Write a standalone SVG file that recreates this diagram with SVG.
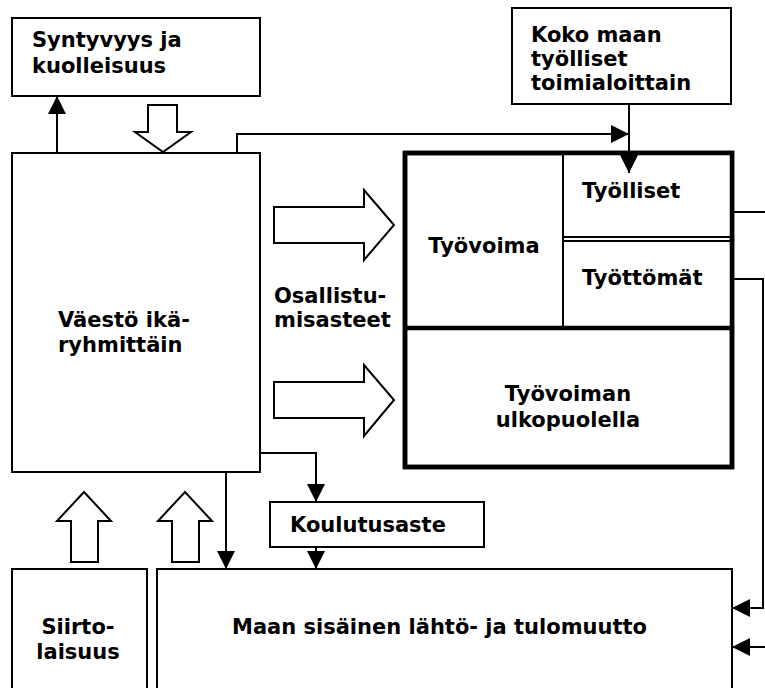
<svg xmlns="http://www.w3.org/2000/svg" width="765" height="688" viewBox="0 0 765 688">
<style>
.box{fill:#fff;stroke:#000;stroke-width:2}
.thick{fill:none;stroke:#000;stroke-width:4.5}
.ln{fill:none;stroke:#000;stroke-width:2}
.hollow{fill:#fff;stroke:#000;stroke-width:2;stroke-linejoin:miter}
text{font-family:"DejaVu Sans","Liberation Sans",sans-serif;font-weight:bold;font-size:21px;fill:#000}
.c{text-anchor:middle}
</style>
<defs>
<marker id="ah" markerUnits="userSpaceOnUse" viewBox="0 0 18 18" markerWidth="18" markerHeight="18" refX="18" refY="9" orient="auto">
<path d="M0,0 L18,9 L0,18 z" fill="#000"/>
</marker>
</defs>
<rect width="765" height="688" fill="#fff"/>
<g id="syntyvyys">
<rect class="box" x="12" y="18" width="248" height="78"/>
<text x="32" y="47">Syntyvyys ja</text>
<text x="32" y="73">kuolleisuus</text>
</g>
<g id="koko">
<rect class="box" x="512" y="8" width="219" height="96"/>
<text x="531" y="42">Koko maan</text>
<text x="531" y="66">työlliset</text>
<text x="531" y="90">toimialoittain</text>
</g>
<g id="vaesto">
<rect class="box" x="12" y="153" width="248" height="319"/>
<text x="58" y="327">Väestö ikä-</text>
<text x="58" y="352">ryhmittäin</text>
</g>
<g id="osallistumisasteet">
<text x="274" y="303">Osallistu-</text>
<text x="274" y="327">misasteet</text>
</g>
<g id="tyovoima">
<rect class="thick" x="405" y="153" width="327" height="314" fill="#fff"/>
<line class="ln" x1="563" y1="153" x2="563" y2="328"/>
<text class="c" x="484" y="253">Työvoima</text>
</g>
<g id="tyolliset">
<rect class="box" x="563" y="153" width="169" height="84"/>
<text x="582" y="198">Työlliset</text>
</g>
<g id="tyottomat">
<rect class="box" x="563" y="241" width="169" height="87"/>
<text x="582" y="285">Työttömät</text>
</g>
<g id="ulkopuolella">
<line class="thick" x1="405" y1="328" x2="732" y2="328"/>
<rect class="thick" x="405" y="153" width="327" height="314"/>
<text class="c" x="568" y="401">Työvoiman</text>
<text class="c" x="568" y="427">ulkopuolella</text>
</g>
<g id="koulutusaste">
<rect class="box" x="270" y="502" width="214" height="45"/>
<text x="290" y="532">Koulutusaste</text>
</g>
<g id="siirtolaisuus">
<rect class="box" x="12" y="569" width="135" height="140"/>
<text class="c" x="78" y="634">Siirto-</text>
<text class="c" x="78" y="659">laisuus</text>
</g>
<g id="maan">
<rect class="box" x="157" y="569" width="575" height="140"/>
<text x="232" y="634">Maan sisäinen lähtö- ja tulomuutto</text>
</g>
<g id="connectors">
<polygon class="hollow" points="148,105 177,105 177,132 191,132 163,152 135,132 148,132"/>
<polygon class="hollow" points="274,207 364,207 364,190 394,225 364,260 364,243 274,243"/>
<polygon class="hollow" points="274,382 364,382 364,365 394,400 364,436 364,418 274,418"/>
<polygon class="hollow" points="84,492 111,521 98,521 98,562 71,562 71,521 57,521"/>
<polygon class="hollow" points="185,492 212,521 199,521 199,562 172,562 172,521 158,521"/>
<path class="ln" d="M57,153 L57,96" marker-end="url(#ah)"/>
<path class="ln" d="M237,153 L237,134 L629,134" marker-end="url(#ah)"/>
<path class="ln" d="M629,104 L629,173" marker-end="url(#ah)"/>
<path class="ln" d="M260,453 L316,453 L316,502" marker-end="url(#ah)"/>
<path class="ln" d="M226,472 L226,569" marker-end="url(#ah)"/>
<path class="ln" d="M316,547 L316,569" marker-end="url(#ah)"/>
<path class="ln" d="M732,212 L766,212"/>
<path class="ln" d="M732,279 L763,279 L763,608 L732,608" marker-end="url(#ah)"/>
<path class="ln" d="M766,647 L732,647" marker-end="url(#ah)"/>
</g>
</svg>
